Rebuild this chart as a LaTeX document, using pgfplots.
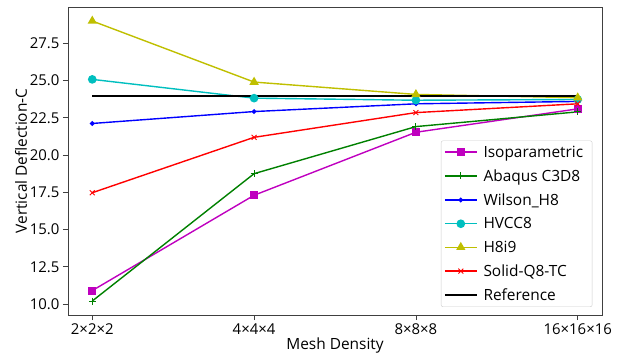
\documentclass[border=0pt]{standalone}
\usepackage{fontspec}
\setmainfont{Open Sans}
\usepackage{pgfplots}
\pgfplotsset{compat=1.18}
\definecolor{mplm}{HTML}{BF00BF}
\definecolor{mplg}{HTML}{008000}
\definecolor{mplb}{HTML}{0000FF}
\definecolor{mplc}{HTML}{00BFBF}
\definecolor{mply}{HTML}{BFBF00}
\definecolor{mplr}{HTML}{FF0000}
\begin{document}
\begin{tikzpicture}
\begin{axis}[
  scale only axis, width=534bp, height=308bp,
  xmin=-0.15, xmax=3.15, ymin=9.26, ymax=29.94,
  xtick={0,1,2,3},
  xticklabels={2×2×2,4×4×4,8×8×8,16×16×16},
  ytick={10,12.5,15,17.5,20,22.5,25,27.5},
  yticklabel style={/pgf/number format/.cd,fixed,fixed zerofill,precision=1},
  /pgf/number format/assume math mode=true,
  tick label style={font=\fontsize{15}{18}\selectfont},
  label style={font=\fontsize{15.5}{18}\selectfont},
  xlabel={Mesh Density}, ylabel={Vertical Deflection-C},
  xlabel style={yshift=4bp}, ylabel style={yshift=-4bp},
  tick align=outside, xtick pos=bottom, ytick pos=left,
  major tick length=5bp,
  axis line style={black!75, line width=0.8bp},
  every tick/.style={black!75, line width=0.8bp},
  legend style={at={(0.982,0.026)}, anchor=south east, draw=black!20, rounded corners=2bp,
    font=\fontsize{15.5}{18}\selectfont, row sep=6.8bp, inner sep=3bp, cells={anchor=west},
    nodes={inner xsep=6bp}},
  legend cell align=left,
  legend image code/.code={\draw[line width=1.4bp, mark repeat=2,mark phase=2] plot coordinates {(0bp,0bp) (16bp,0bp) (32bp,0bp)};},
  every axis plot/.append style={line width=1.4bp},
]
\addplot[mplm, mark=square*, mark size=3.3bp] coordinates {(0,10.9) (1,17.3) (2,21.53) (3,23.1)};
\addlegendentry{Isoparametric}
\addplot[mplg, mark=+, mark size=3.5bp, mark options={line width=0.9bp}] coordinates {(0,10.2) (1,18.75) (2,21.91) (3,22.9)};
\addlegendentry{Abaqus C3D8}
\addplot[mplb, mark=*, mark size=1.6bp] coordinates {(0,22.12) (1,22.92) (2,23.44) (3,23.6)};
\addlegendentry{Wilson\_H8}
\addplot[mplc, mark=*, mark size=3.6bp] coordinates {(0,25.08) (1,23.82) (2,23.68) (3,23.73)};
\addlegendentry{HVCC8}
\addplot[mply, mark=triangle*, mark size=4bp] coordinates {(0,29.0) (1,24.9) (2,24.07) (3,23.85)};
\addlegendentry{H8i9}
\addplot[mplr, mark=x, mark size=3.5bp, mark options={line width=0.9bp}] coordinates {(0,17.47) (1,21.19) (2,22.85) (3,23.44)};
\addlegendentry{Solid-Q8-TC}
\addplot[black, no marks] coordinates {(0,23.96) (1,23.96) (2,23.96) (3,23.96)};
\addlegendentry{Reference}
\end{axis}
\path (current axis.south west) ++(-68bp,-47bp) (current axis.north east) ++(15bp,7bp);
\end{tikzpicture}
\end{document}
